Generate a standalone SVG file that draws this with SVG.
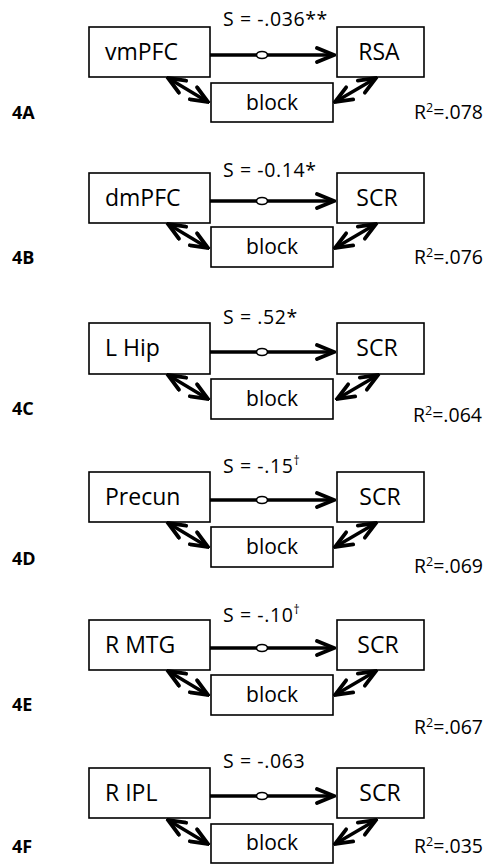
<svg xmlns="http://www.w3.org/2000/svg" width="492" height="865" viewBox="0 0 492 865">
<style>
.box{fill:#fff;stroke:#000;stroke-width:1.6}
.lbl{font-family:"Open Sans","Liberation Sans",Arial,sans-serif;font-size:23px;fill:#000}
.blk{font-family:"Open Sans","Liberation Sans",Arial,sans-serif;font-size:21px;fill:#000;text-anchor:middle}
.s{font-family:"Open Sans","Liberation Sans",Arial,sans-serif;font-size:19.5px;fill:#000;letter-spacing:0.6px}
.r2{font-family:"Open Sans","Liberation Sans",Arial,sans-serif;font-size:19.5px;fill:#000}
.pl{font-family:"Open Sans","Liberation Sans",Arial,sans-serif;font-size:18px;font-weight:bold;fill:#000}
.dbl{stroke:#000;stroke-width:3.4;fill:none;marker-start:url(#ah);marker-end:url(#ah)}
.main{stroke:#000;stroke-width:3.4;fill:none;marker-end:url(#ah)}
.ov{fill:#fff;stroke:#000;stroke-width:1.6}
</style>
<defs>
<marker id="ah" markerUnits="userSpaceOnUse" viewBox="0 0 22 18" refX="20" refY="9" markerWidth="22" markerHeight="18" orient="auto-start-reverse">
<path d="M3,2 L20,9 L3,16" fill="none" stroke="#000" stroke-width="3.8" stroke-linejoin="miter" stroke-linecap="round"/>
</marker>
</defs>

<!-- Panel A -->
<g id="panelA" transform="translate(0,27)">
<g id="A-left"><rect class="box" x="89" y="0" width="121" height="50"/><text class="lbl" x="105" y="33">vmPFC</text></g>
<g id="A-right"><rect class="box" x="337" y="0" width="87" height="50"/><text class="lbl" x="379" y="33" text-anchor="middle">RSA</text></g>
<g id="A-block"><rect class="box" x="211" y="56" width="122" height="39"/><text class="blk" x="272" y="83">block</text></g>
<text class="s" x="223" y="-1">S = -.036**</text>
<text class="pl" x="12" y="92">4A</text>
<text class="r2" x="414" y="92">R<tspan font-size="12.5" dy="-7">2</tspan><tspan dy="7">=.078</tspan></text>
</g>

<!-- Panel B -->
<g id="panelB" transform="translate(0,173)">
<g id="B-left"><rect class="box" x="89" y="0" width="121" height="50"/><text class="lbl" x="105" y="33">dmPFC</text></g>
<g id="B-right"><rect class="box" x="337" y="0" width="87" height="50"/><text class="lbl" x="377" y="33" text-anchor="middle">SCR</text></g>
<g id="B-block"><rect class="box" x="211" y="54" width="122" height="40"/><text class="blk" x="272" y="81">block</text></g>
<text class="s" x="223" y="4">S = -0.14*</text>
<text class="pl" x="12" y="91">4B</text>
<text class="r2" x="414" y="91">R<tspan font-size="12.5" dy="-7">2</tspan><tspan dy="7">=.076</tspan></text>
</g>

<!-- Panel C -->
<g id="panelC" transform="translate(0,323)">
<g id="C-left"><rect class="box" x="89" y="0" width="121" height="51"/><text class="lbl" x="105" y="33">L Hip</text></g>
<g id="C-right"><rect class="box" x="337" y="0" width="87" height="51"/><text class="lbl" x="377" y="33" text-anchor="middle">SCR</text></g>
<g id="C-block"><rect class="box" x="211" y="56" width="122" height="40"/><text class="blk" x="272" y="83">block</text></g>
<text class="s" x="223" y="1">S = .52*</text>
<text class="pl" x="12" y="92">4C</text>
<text class="r2" x="413" y="99">R<tspan font-size="12.5" dy="-7">2</tspan><tspan dy="7">=.064</tspan></text>
</g>

<!-- Panel D -->
<g id="panelD" transform="translate(0,472)">
<g id="D-left"><rect class="box" x="89" y="0" width="121" height="50"/><text class="lbl" x="105" y="33">Precun</text></g>
<g id="D-right"><rect class="box" x="337" y="0" width="87" height="50"/><text class="lbl" x="380" y="33" text-anchor="middle">SCR</text></g>
<g id="D-block"><rect class="box" x="211" y="55" width="122" height="40"/><text class="blk" x="272" y="82">block</text></g>
<text class="s" x="223" y="1">S = -.15<tspan font-size="12" dy="-8">†</tspan></text>
<text class="pl" x="12" y="93">4D</text>
<text class="r2" x="414" y="101">R<tspan font-size="12.5" dy="-7">2</tspan><tspan dy="7">=.069</tspan></text>
</g>

<!-- Panel E -->
<g id="panelE" transform="translate(0,620)">
<g id="E-left"><rect class="box" x="89" y="0" width="121" height="50"/><text class="lbl" x="105" y="33">R MTG</text></g>
<g id="E-right"><rect class="box" x="337" y="0" width="87" height="50"/><text class="lbl" x="378" y="33" text-anchor="middle">SCR</text></g>
<g id="E-block"><rect class="box" x="211" y="55" width="122" height="40"/><text class="blk" x="272" y="82">block</text></g>
<text class="s" x="223" y="2">S = -.10<tspan font-size="12" dy="-8">†</tspan></text>
<text class="pl" x="12" y="91">4E</text>
<text class="r2" x="414" y="114">R<tspan font-size="12.5" dy="-7">2</tspan><tspan dy="7">=.067</tspan></text>
</g>

<!-- Panel F -->
<g id="panelF" transform="translate(0,768)">
<g id="F-left"><rect class="box" x="89" y="0" width="121" height="50"/><text class="lbl" x="105" y="33">R IPL</text></g>
<g id="F-right"><rect class="box" x="337" y="0" width="87" height="50"/><text class="lbl" x="380" y="33" text-anchor="middle">SCR</text></g>
<g id="F-block"><rect class="box" x="211" y="56" width="122" height="39"/><text class="blk" x="272" y="82">block</text></g>
<text class="s" x="223" y="0">S = -.063</text>
<text class="pl" x="12" y="85">4F</text>
<text class="r2" x="414" y="85">R<tspan font-size="12.5" dy="-7">2</tspan><tspan dy="7">=.035</tspan></text>
</g>

<!-- Connectors -->
<g id="connectors">
<g transform="translate(0,27)">
<line class="main" x1="210" y1="28" x2="334" y2="28"/><ellipse class="ov" cx="262" cy="28" rx="5.5" ry="3.5"/>
<line class="dbl" x1="168" y1="51" x2="208" y2="75"/><line class="dbl" x1="376" y1="51" x2="335" y2="75"/>
</g>
<g transform="translate(0,173)">
<line class="main" x1="210" y1="28" x2="334" y2="28"/><ellipse class="ov" cx="262" cy="28" rx="5.5" ry="3.5"/>
<line class="dbl" x1="168" y1="51" x2="208" y2="75"/><line class="dbl" x1="376" y1="51" x2="335" y2="75"/>
</g>
<g transform="translate(0,323)">
<line class="main" x1="210" y1="29" x2="334" y2="29"/><ellipse class="ov" cx="262" cy="29" rx="5.5" ry="3.5"/>
<line class="dbl" x1="168" y1="52" x2="208" y2="76"/><line class="dbl" x1="378" y1="52" x2="337" y2="76"/>
</g>
<g transform="translate(0,472)">
<line class="main" x1="210" y1="28" x2="334" y2="28"/><ellipse class="ov" cx="262" cy="28" rx="5.5" ry="3.5"/>
<line class="dbl" x1="168" y1="51" x2="208" y2="75"/><line class="dbl" x1="376" y1="51" x2="335" y2="75"/>
</g>
<g transform="translate(0,620)">
<line class="main" x1="210" y1="28" x2="334" y2="28"/><ellipse class="ov" cx="262" cy="28" rx="5.5" ry="3.5"/>
<line class="dbl" x1="168" y1="51" x2="208" y2="75"/><line class="dbl" x1="376" y1="51" x2="335" y2="75"/>
</g>
<g transform="translate(0,768)">
<line class="main" x1="210" y1="28" x2="334" y2="28"/><ellipse class="ov" cx="262" cy="28" rx="5.5" ry="3.5"/>
<line class="dbl" x1="168" y1="52" x2="208" y2="76"/><line class="dbl" x1="376" y1="52" x2="335" y2="76"/>
</g>
</g>
</svg>
